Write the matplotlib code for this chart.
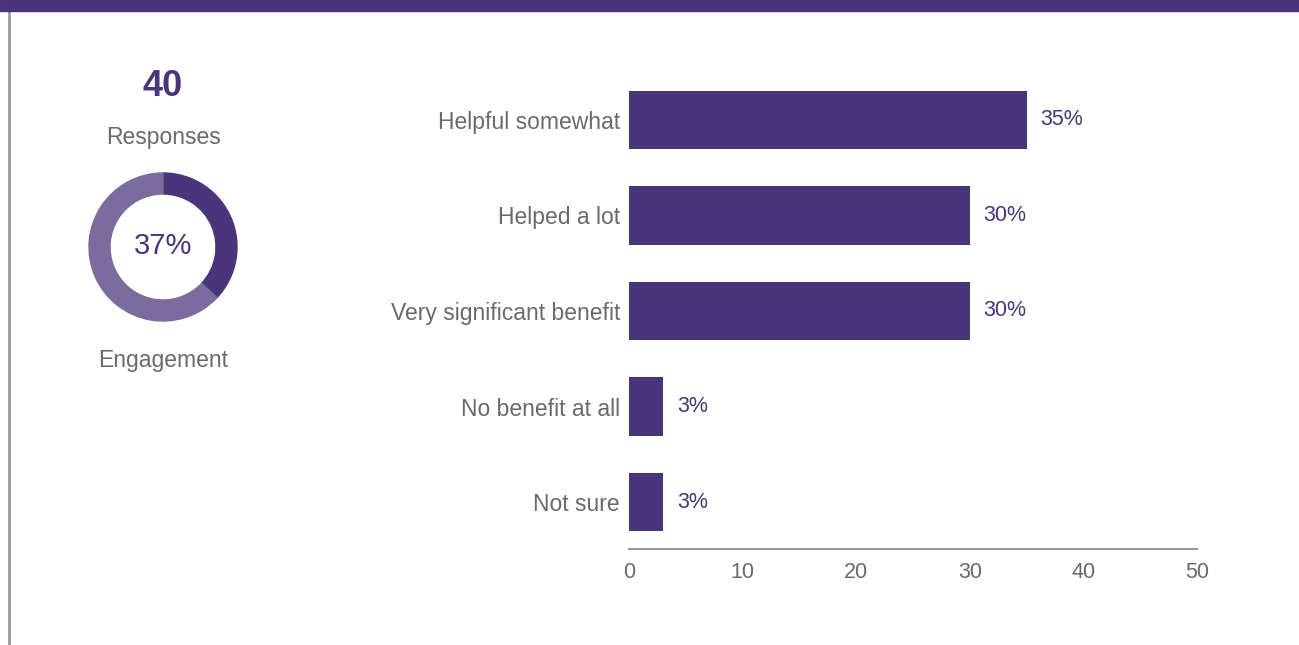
import matplotlib
matplotlib.use("Agg")
import matplotlib.pyplot as plt
from matplotlib.patches import Wedge, Rectangle
from matplotlib.lines import Line2D

# survey results
categories = ["Helpful somewhat", "Helped a lot", "Very significant benefit",
              "No benefit at all", "Not sure"]
percents = [35, 30, 30, 3, 3]
xticks = [0, 10, 20, 30, 40, 50]

responses = 40
engagement = 37

purple = "#4b357a"
light_purple = "#7c6b9d"
grey_text = "#6a6a6a"

plt.rcParams['font.family'] = ['Liberation Sans', 'DejaVu Sans']

W, H = 1299, 645
fig = plt.figure(figsize=(W / 100, H / 100), dpi=100)
fig.patch.set_facecolor("white")

# header band and left border
fig.add_artist(Rectangle((0, 1 - 11 / H), 1, 11 / H, transform=fig.transFigure,
                         color=purple, zorder=5))
fig.add_artist(Line2D([8.5 / W, 8.5 / W], [0, 1 - 11 / H], transform=fig.transFigure,
                      color="#999999", lw=2))

# left summary panel
fig.text(163 / W, 1 - 86 / H, str(responses), ha="center", va="center",
         fontsize=26, fontweight="bold", color=purple)
fig.text(163 / W, 1 - 137 / H, "Responses", ha="center", va="center",
         fontsize=16.5, color=grey_text)
fig.text(163 / W, 1 - 361 / H, "Engagement", ha="center", va="center",
         fontsize=16.5, color=grey_text)

# donut
R = 74
dax = fig.add_axes([(163 - R - 4) / W, 1 - (247 + R + 4) / H, (2 * R + 8) / W, (2 * R + 8) / H])
dax.set_xlim(-R - 4, R + 4)
dax.set_ylim(-R - 4, R + 4)
dax.set_aspect("equal")
dax.axis("off")
ang = 360 * engagement / 100
dax.add_patch(Wedge((0, 0), R, 90 - ang, 90, width=21, color=purple))
dax.add_patch(Wedge((0, 0), R, 90, 90 - ang + 360, width=21, color=light_purple))
dax.text(0, 1, f"{engagement}%", ha="center", va="center", fontsize=21, color=purple)

# bar chart
ax = fig.add_axes([629 / W, 1 - 549 / H, 568 / W, (549 - 72) / H])
ypos = list(range(len(categories)))
ax.barh(ypos, percents, height=0.61, color=purple)
ax.set_xlim(0, 50)
ax.set_ylim(4.49, -0.5)
ax.set_yticks(ypos)
ax.set_yticklabels(categories, fontsize=16.5, color=grey_text)
ax.set_xticks(xticks)
ax.set_xticklabels([str(t) for t in xticks], fontsize=15.5, color=grey_text)
ax.tick_params(axis="both", length=0)
ax.tick_params(axis="y", pad=6.5)
ax.tick_params(axis="x", pad=9)
for s in ["top", "right", "left"]:
    ax.spines[s].set_visible(False)
ax.spines["bottom"].set_color("#999999")
ax.spines["bottom"].set_linewidth(1.5)

for y, v in zip(ypos, percents):
    ax.annotate(f"{v}%", (v, y), xytext=(10, 0), textcoords="offset points",
                ha="left", va="center", fontsize=15.5, color=purple)

fig.savefig("out.png", dpi=100, facecolor="white")
